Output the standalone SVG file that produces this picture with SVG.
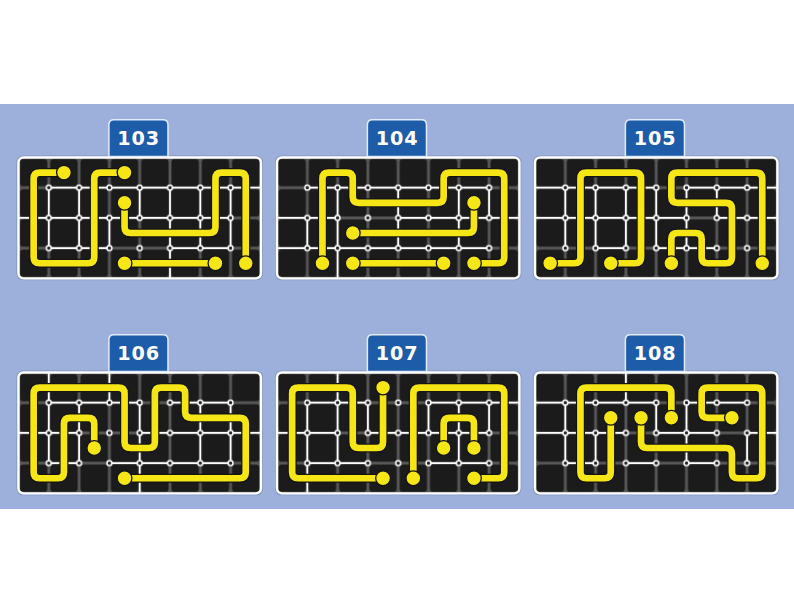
<svg xmlns="http://www.w3.org/2000/svg" width="794" height="614" viewBox="0 0 794 614">
<style>
.bg{fill:#9db0db}
.halo{fill:#8396c2}
.grid{fill:url(#tiles);stroke:#fff;stroke-width:2.4}
.wl{stroke:#fff;stroke-width:1.7;fill:none;stroke-linecap:round}
.po{stroke:#141414;stroke-width:9;fill:none;stroke-linejoin:round;stroke-linecap:round}
.py{stroke:#f6e616;stroke-width:6.6;fill:none;stroke-linejoin:round;stroke-linecap:round}
.dot{fill:#f6e616;stroke:#141414;stroke-width:1.3}
.lbl{fill:#1d5ca8;stroke:#e4ebf8;stroke-width:1.5}
.num{font-family:"DejaVu Sans","Liberation Sans",sans-serif;font-weight:bold;font-size:19px;fill:#fff;text-anchor:middle}
</style>
<defs>
<pattern id="tiles" patternUnits="userSpaceOnUse" width="30" height="30">
<rect width="30" height="30" fill="#575757"/>
<rect x="1.4" y="1.4" width="27.2" height="27.2" rx="3.5" fill="#1b1b1b"/>
</pattern>
<pattern id="nodes" patternUnits="userSpaceOnUse" x="15" y="15" width="30" height="30">
<circle cx="15" cy="15" r="2.4" fill="#222" stroke="#fff" stroke-width="1.4"/>
</pattern>
<path id="tag" d="M89.5,-1 V-32.5 Q89.5,-37.5 94.5,-37.5 H143 Q148,-37.5 148,-32.5 V-1 Z"/>
</defs>
<rect width="794" height="614" fill="#fff"/>
<rect class="bg" y="104" width="794" height="405"/>

<g id="p103" transform="translate(18.5,157.5) scale(1.01,1.007)">
<rect class="halo" x="-2" y="-2" width="244" height="124" rx="6.5"/>
<rect class="grid" width="240" height="120" rx="5"/>
<path class="wl" d="M30,30 H240 M0,60 H210 M30,90 H90 M150,90 H210 M30,30 V90 M60,30 V90 M90,60 V90 M120,30 V60 M150,30 V120 M180,30 V90 M210,30 V90"/>
<rect x="15" y="15" width="210" height="90" fill="url(#nodes)"/>
<g id="c103">
<path class="po" d="M45,15 L21,15 Q15,15 15,21 L15,99 Q15,105 21,105 L69,105 Q75,105 75,99 L75,21 Q75,15 81,15 L105,15 M105,45 L105,69 Q105,75 111,75 L189,75 Q195,75 195,69 L195,21 Q195,15 201,15 L219,15 Q225,15 225,21 L225,105 M105,105 L195,105"/>
<path class="py" d="M45,15 L21,15 Q15,15 15,21 L15,99 Q15,105 21,105 L69,105 Q75,105 75,99 L75,21 Q75,15 81,15 L105,15 M105,45 L105,69 Q105,75 111,75 L189,75 Q195,75 195,69 L195,21 Q195,15 201,15 L219,15 Q225,15 225,21 L225,105 M105,105 L195,105"/>
</g>
<circle class="dot" cx="45" cy="15" r="7.3"/><circle class="dot" cx="105" cy="15" r="7.3"/><circle class="dot" cx="105" cy="45" r="7.3"/><circle class="dot" cx="225" cy="105" r="7.3"/><circle class="dot" cx="105" cy="105" r="7.3"/><circle class="dot" cx="195" cy="105" r="7.3"/>
<use href="#tag" class="lbl"/>
<text class="num" x="119" y="-12.5" letter-spacing="1">103</text>
</g>

<g id="p104" transform="translate(277,157.5) scale(1.01,1.007)">
<rect class="halo" x="-2" y="-2" width="244" height="124" rx="6.5"/>
<rect class="grid" width="240" height="120" rx="5"/>
<path class="wl" d="M30,30 H210 M0,60 H60 M120,60 H240 M0,90 H210 M30,60 V90 M60,30 V120 M120,30 V90 M180,30 V90 M210,30 V60"/>
<rect x="15" y="15" width="210" height="90" fill="url(#nodes)"/>
<g id="c104">
<path class="po" d="M45,105 L45,21 Q45,15 51,15 L69,15 Q75,15 75,21 L75,39 Q75,45 81,45 L159,45 Q165,45 165,39 L165,21 Q165,15 171,15 L219,15 Q225,15 225,21 L225,99 Q225,105 219,105 L195,105 M195,45 L195,69 Q195,75 189,75 L75,75 M75,105 L165,105"/>
<path class="py" d="M45,105 L45,21 Q45,15 51,15 L69,15 Q75,15 75,21 L75,39 Q75,45 81,45 L159,45 Q165,45 165,39 L165,21 Q165,15 171,15 L219,15 Q225,15 225,21 L225,99 Q225,105 219,105 L195,105 M195,45 L195,69 Q195,75 189,75 L75,75 M75,105 L165,105"/>
</g>
<circle class="dot" cx="45" cy="105" r="7.3"/><circle class="dot" cx="195" cy="105" r="7.3"/><circle class="dot" cx="195" cy="45" r="7.3"/><circle class="dot" cx="75" cy="75" r="7.3"/><circle class="dot" cx="75" cy="105" r="7.3"/><circle class="dot" cx="165" cy="105" r="7.3"/>
<use href="#tag" class="lbl"/>
<text class="num" x="119" y="-12.5" letter-spacing="1">104</text>
</g>

<g id="p105" transform="translate(535,157.5) scale(1.01,1.007)">
<rect class="halo" x="-2" y="-2" width="244" height="124" rx="6.5"/>
<rect class="grid" width="240" height="120" rx="5"/>
<path class="wl" d="M0,30 H120 M150,30 H240 M0,60 H150 M180,60 H240 M60,90 H90 M120,90 H180 M30,30 V90 M60,30 V90 M90,30 V90 M120,30 V90 M150,30 V90 M180,30 V60"/>
<rect x="15" y="15" width="210" height="90" fill="url(#nodes)"/>
<g id="c105">
<path class="po" d="M15,105 L39,105 Q45,105 45,99 L45,21 Q45,15 51,15 L99,15 Q105,15 105,21 L105,99 Q105,105 99,105 L75,105 M135,105 L135,81 Q135,75 141,75 L159,75 Q165,75 165,81 L165,99 Q165,105 171,105 L189,105 Q195,105 195,99 L195,51 Q195,45 189,45 L141,45 Q135,45 135,39 L135,21 Q135,15 141,15 L219,15 Q225,15 225,21 L225,105"/>
<path class="py" d="M15,105 L39,105 Q45,105 45,99 L45,21 Q45,15 51,15 L99,15 Q105,15 105,21 L105,99 Q105,105 99,105 L75,105 M135,105 L135,81 Q135,75 141,75 L159,75 Q165,75 165,81 L165,99 Q165,105 171,105 L189,105 Q195,105 195,99 L195,51 Q195,45 189,45 L141,45 Q135,45 135,39 L135,21 Q135,15 141,15 L219,15 Q225,15 225,21 L225,105"/>
</g>
<circle class="dot" cx="15" cy="105" r="7.3"/><circle class="dot" cx="75" cy="105" r="7.3"/><circle class="dot" cx="135" cy="105" r="7.3"/><circle class="dot" cx="225" cy="105" r="7.3"/>
<use href="#tag" class="lbl"/>
<text class="num" x="119" y="-12.5" letter-spacing="1">105</text>
</g>

<g id="p106" transform="translate(18.5,372.5) scale(1.01,1.007)">
<rect class="halo" x="-2" y="-2" width="244" height="124" rx="6.5"/>
<rect class="grid" width="240" height="120" rx="5"/>
<path class="wl" d="M30,30 H120 M150,30 H210 M0,60 H60 M120,60 H240 M30,90 H60 M90,90 H210 M30,0 V90 M60,30 V90 M90,0 V30 M120,30 V120 M180,30 V90 M210,30 V90"/>
<rect x="15" y="15" width="210" height="90" fill="url(#nodes)"/>
<g id="c106">
<path class="po" d="M75,75 L75,51 Q75,45 69,45 L51,45 Q45,45 45,51 L45,99 Q45,105 39,105 L21,105 Q15,105 15,99 L15,21 Q15,15 21,15 L99,15 Q105,15 105,21 L105,69 Q105,75 111,75 L129,75 Q135,75 135,69 L135,21 Q135,15 141,15 L159,15 Q165,15 165,21 L165,39 Q165,45 171,45 L219,45 Q225,45 225,51 L225,99 Q225,105 219,105 L105,105"/>
<path class="py" d="M75,75 L75,51 Q75,45 69,45 L51,45 Q45,45 45,51 L45,99 Q45,105 39,105 L21,105 Q15,105 15,99 L15,21 Q15,15 21,15 L99,15 Q105,15 105,21 L105,69 Q105,75 111,75 L129,75 Q135,75 135,69 L135,21 Q135,15 141,15 L159,15 Q165,15 165,21 L165,39 Q165,45 171,45 L219,45 Q225,45 225,51 L225,99 Q225,105 219,105 L105,105"/>
</g>
<circle class="dot" cx="75" cy="75" r="7.3"/><circle class="dot" cx="105" cy="105" r="7.3"/>
<use href="#tag" class="lbl"/>
<text class="num" x="119" y="-12.5" letter-spacing="1">106</text>
</g>

<g id="p107" transform="translate(277,372.5) scale(1.01,1.007)">
<rect class="halo" x="-2" y="-2" width="244" height="124" rx="6.5"/>
<rect class="grid" width="240" height="120" rx="5"/>
<path class="wl" d="M30,30 H90 M150,30 H240 M0,60 H60 M90,60 H210 M30,90 H90 M150,90 H210 M30,30 V120 M60,0 V90 M90,30 V60 M150,30 V60 M180,30 V90 M210,30 V60"/>
<rect x="15" y="15" width="210" height="90" fill="url(#nodes)"/>
<g id="c107">
<path class="po" d="M105,105 L21,105 Q15,105 15,99 L15,21 Q15,15 21,15 L69,15 Q75,15 75,21 L75,69 Q75,75 81,75 L99,75 Q105,75 105,69 L105,15 M135,105 L135,21 Q135,15 141,15 L219,15 Q225,15 225,21 L225,99 Q225,105 219,105 L195,105 M165,75 L165,51 Q165,45 171,45 L189,45 Q195,45 195,51 L195,75"/>
<path class="py" d="M105,105 L21,105 Q15,105 15,99 L15,21 Q15,15 21,15 L69,15 Q75,15 75,21 L75,69 Q75,75 81,75 L99,75 Q105,75 105,69 L105,15 M135,105 L135,21 Q135,15 141,15 L219,15 Q225,15 225,21 L225,99 Q225,105 219,105 L195,105 M165,75 L165,51 Q165,45 171,45 L189,45 Q195,45 195,51 L195,75"/>
</g>
<circle class="dot" cx="105" cy="105" r="7.3"/><circle class="dot" cx="105" cy="15" r="7.3"/><circle class="dot" cx="135" cy="105" r="7.3"/><circle class="dot" cx="195" cy="105" r="7.3"/><circle class="dot" cx="165" cy="75" r="7.3"/><circle class="dot" cx="195" cy="75" r="7.3"/>
<use href="#tag" class="lbl"/>
<text class="num" x="119" y="-12.5" letter-spacing="1">107</text>
</g>

<g id="p108" transform="translate(535,372.5) scale(1.01,1.007)">
<rect class="halo" x="-2" y="-2" width="244" height="124" rx="6.5"/>
<rect class="grid" width="240" height="120" rx="5"/>
<path class="wl" d="M0,30 H120 M150,30 H210 M0,60 H90 M120,60 H180 M210,60 H240 M30,90 H60 M90,90 H120 M150,90 H180 M30,30 V90 M60,60 V90 M90,0 V30 M120,30 V60 M150,30 V90 M210,60 V90"/>
<rect x="15" y="15" width="210" height="90" fill="url(#nodes)"/>
<g id="c108">
<path class="po" d="M75,45 L75,99 Q75,105 69,105 L51,105 Q45,105 45,99 L45,21 Q45,15 51,15 L129,15 Q135,15 135,21 L135,45 M105,45 L105,69 Q105,75 111,75 L189,75 Q195,75 195,81 L195,99 Q195,105 201,105 L219,105 Q225,105 225,99 L225,21 Q225,15 219,15 L171,15 Q165,15 165,21 L165,39 Q165,45 171,45 L195,45"/>
<path class="py" d="M75,45 L75,99 Q75,105 69,105 L51,105 Q45,105 45,99 L45,21 Q45,15 51,15 L129,15 Q135,15 135,21 L135,45 M105,45 L105,69 Q105,75 111,75 L189,75 Q195,75 195,81 L195,99 Q195,105 201,105 L219,105 Q225,105 225,99 L225,21 Q225,15 219,15 L171,15 Q165,15 165,21 L165,39 Q165,45 171,45 L195,45"/>
</g>
<circle class="dot" cx="75" cy="45" r="7.3"/><circle class="dot" cx="135" cy="45" r="7.3"/><circle class="dot" cx="105" cy="45" r="7.3"/><circle class="dot" cx="195" cy="45" r="7.3"/>
<use href="#tag" class="lbl"/>
<text class="num" x="119" y="-12.5" letter-spacing="1">108</text>
</g>
</svg>
